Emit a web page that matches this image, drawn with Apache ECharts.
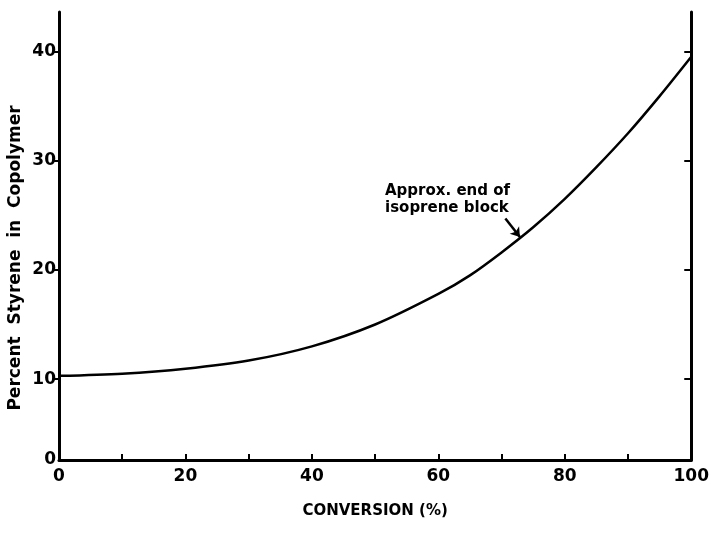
<!DOCTYPE html>
<html>
<head>
<meta charset="utf-8">
<script src="https://cdn.jsdelivr.net/npm/echarts@6/dist/echarts.min.js"></script>
<style>
  html, body { margin: 0; padding: 0; background: #fff; }
  #chart { width: 712px; height: 535px; }
</style>
</head>
<body>
<div id="chart"></div>
<script>
// conversion (%) vs percent styrene in copolymer
var conversion = [0, 10, 20, 30, 40, 50, 60, 65, 70, 75, 80, 85, 90, 95, 100];
var styrene = [10.3, 10.5, 10.95, 11.7, 13.0, 15.0, 17.8, 19.5, 21.6, 23.9, 26.5, 29.4, 32.5, 35.9, 39.5];
var xLabels = [0, 20, 40, 60, 80, 100];
var yLabels = [10, 20, 30, 40];
// bottom of the y axis sits a bit above zero but is labelled "0" in the original
var yBottom = 2.6;
var yTop = 43.6;

var font = '"DejaVu Sans", sans-serif';
var chart = echarts.init(document.getElementById('chart'));

var points = conversion.map(function (c, i) { return [c, styrene[i]]; });

chart.setOption({
  animation: false,
  backgroundColor: '#fff',
  grid: { left: 59, right: 12, top: 12, bottom: 75 },
  xAxis: {
    type: 'value',
    min: 0, max: 100, interval: 10,
    name: 'CONVERSION (%)',
    nameLocation: 'middle',
    nameGap: 44,
    nameTextStyle: { fontFamily: font, fontWeight: 'bold', fontSize: 15, color: '#000' },
    axisLine: { lineStyle: { color: '#000', width: 3 } },
    axisTick: { inside: true, length: 6, lineStyle: { color: '#000', width: 2 } },
    axisLabel: {
      customValues: xLabels,
      margin: 8,
      fontFamily: font, fontWeight: 'bold', fontSize: 17, color: '#000'
    },
    splitLine: { show: false }
  },
  yAxis: [{
    type: 'value',
    min: yBottom, max: yTop,
    axisLine: { show: true, lineStyle: { color: '#000', width: 3 } },
    axisTick: { show: true, customValues: yLabels, length: 5, lineStyle: { color: '#000', width: 2 } },
    axisLabel: {
      customValues: [yBottom].concat(yLabels),
      formatter: function (v) { return v < 5 ? '0' : String(v); },
      margin: 3,
      fontFamily: font, fontWeight: 'bold', fontSize: 17, color: '#000'
    },
    splitLine: { show: false }
  }, {
    type: 'value',
    position: 'right',
    min: yBottom, max: yTop,
    axisLine: { show: true, lineStyle: { color: '#000', width: 3 } },
    axisTick: { show: true, inside: true, customValues: yLabels, length: 7, lineStyle: { color: '#000', width: 2 } },
    axisLabel: { show: false },
    splitLine: { show: false }
  }],
  series: [{
    type: 'line',
    data: points,
    smooth: 0.3,
    showSymbol: false,
    lineStyle: { color: '#000', width: 2.5 },
    markLine: {
      silent: true,
      symbol: ['none', 'arrow'],
      symbolSize: 9,
      label: { show: false },
      lineStyle: { color: '#000', width: 2.5, type: 'solid' },
      data: [[{ coord: [70.6, 24.7] }, { coord: [72.9, 23.0] }]]
    }
  }],
  graphic: [{
    type: 'text',
    left: 385,
    top: 183,
    style: {
      text: 'Approx. end of\nisoprene block',
      font: 'bold 15px "DejaVu Sans", sans-serif',
      lineHeight: 17,
      fill: '#000'
    }
  }, {
    type: 'text',
    x: 16,
    y: 258,
    rotation: Math.PI / 2,
    style: {
      text: 'Percent  Styrene  in  Copolymer',
      font: 'bold 17px "DejaVu Sans", sans-serif',
      align: 'center',
      verticalAlign: 'middle',
      fill: '#000'
    }
  }]
});
</script>
</body>
</html>
